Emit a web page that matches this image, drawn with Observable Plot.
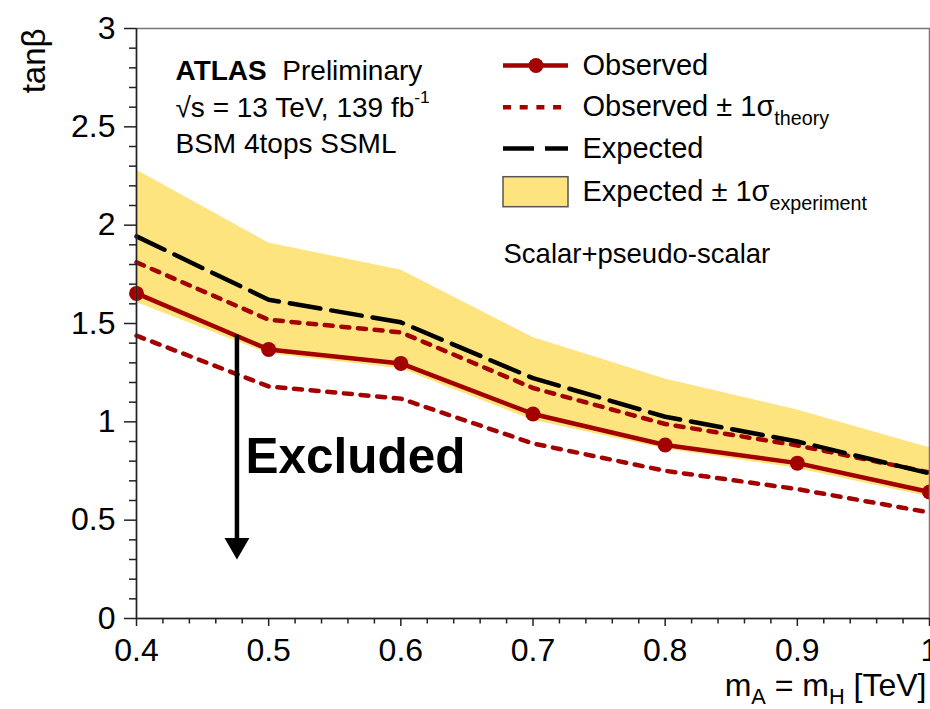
<!DOCTYPE html>
<html><head><meta charset="utf-8">
<script src="https://cdn.jsdelivr.net/npm/d3@7"></script>
<script src="https://cdn.jsdelivr.net/npm/@observablehq/plot@0.6"></script>
<style>
html,body{margin:0;padding:0;background:#fff;}
#chart{width:930px;height:709px;overflow:hidden;}
</style></head><body><div id="chart"></div>
<script>
// ---- data ----
const mass      = [0.4, 0.5, 0.6, 0.7, 0.8, 0.9, 1.0];
const observed  = [1.653, 1.368, 1.297, 1.040, 0.882, 0.790, 0.643];
const obsUp     = [1.811, 1.519, 1.455, 1.172, 0.989, 0.880, 0.743];
const obsDown   = [1.438, 1.180, 1.118, 0.890, 0.751, 0.658, 0.539];
const expected  = [1.943, 1.621, 1.506, 1.222, 1.026, 0.900, 0.738];
const expUp     = [2.281, 1.909, 1.772, 1.429, 1.218, 1.060, 0.868];
const expDown   = [1.607, 1.346, 1.270, 1.008, 0.862, 0.763, 0.618];

const xMajor = [0.4, 0.5, 0.6, 0.7, 0.8, 0.9, 1.0];
const xMajorLabels = ["0.4", "0.5", "0.6", "0.7", "0.8", "0.9", "1"];
const yMajor = [0, 0.5, 1, 1.5, 2, 2.5, 3];
const yMajorLabels = ["0", "0.5", "1", "1.5", "2", "2.5", "3"];
const xMinor = [0.42,0.44,0.46,0.48,0.52,0.54,0.56,0.58,0.62,0.64,0.66,0.68,0.72,0.74,0.76,0.78,0.82,0.84,0.86,0.88,0.92,0.94,0.96,0.98];
const yMinor = [0.1,0.2,0.3,0.4,0.6,0.7,0.8,0.9,1.1,1.2,1.3,1.4,1.6,1.7,1.8,1.9,2.1,2.2,2.3,2.4,2.6,2.7,2.8,2.9];

const legendLabels = ["Observed", "Observed ± 1σ_{theory}", "Expected", "Expected ± 1σ_{experiment}"];
const atlasLines   = ["*{ATLAS}\u00a0\u00a0Preliminary", "√s = 13 TeV, 139 fb^{-1}", "BSM 4tops SSML"];
const channelLabel = ["Scalar+pseudo-scalar"];
const excludedLabel = ["Excluded"];
const xTitle = ["m_{A} = m_{H} [TeV]"];
const yTitle = ["tanβ"];
const arrowX = 0.476, arrowTop = 1.44, arrowTip = 0.30;

// ---- layout ----
const W = 930, H = 709, mL = 136, mR = 1, mT = 28, mB = 91;
const px2x = px => 0.4 + (px - mL) * 0.6 / (W - mL - mR);
const px2y = py => (H - mB - py) * 3 / (H - mT - mB);
const dy2data = d => d * 3 / (H - mT - mB);

const RED = "#a30000", YEL = "#fee47f";
const FONT = "'Liberation Sans', Arial, Helvetica, sans-serif";
const dotted = {stroke: RED, strokeWidth: 4.5, strokeDasharray: "8,8.7"};
const dashed = {stroke: "#000", strokeWidth: 4.5, strokeDasharray: "31,11"};

const rows = mass.map((m, i) => ({m, obs: observed[i], up: obsUp[i], dn: obsDown[i],
  exp: expected[i], eu: expUp[i], ed: expDown[i]}));

// legend geometry
const sx1 = px2x(503), sx2 = px2x(568), sxm = px2x(535.5), tx = px2x(582);
const legY = [65, 106.7, 148, 191.7].map(px2y);

const headLen = dy2data(21.6);

const plot = Plot.plot({
  width: W, height: H,
  marginLeft: mL, marginRight: mR, marginTop: mT, marginBottom: mB,
  x: {domain: [0.4, 1.0]},
  y: {domain: [0, 3]},
  style: {fontFamily: FONT, fontSize: "32px", color: "#000", background: "#fff"},
  marks: [
    Plot.areaY(rows, {x: "m", y1: "ed", y2: "eu", fill: YEL}),
    Plot.line(rows, {x: "m", y: "dn", ...dotted}),
    Plot.line(rows, {x: "m", y: "up", ...dotted}),
    Plot.line(rows, {x: "m", y: "exp", ...dashed}),
    Plot.line(rows, {x: "m", y: "obs", stroke: RED, strokeWidth: 4.5}),
    Plot.dot(rows, {x: "m", y: "obs", r: 7.5, fill: RED, stroke: "none"}),
    // exclusion arrow
    Plot.ruleX([arrowX], {x: d => d, y1: arrowTop, y2: arrowTip + headLen * 0.9, stroke: "#000", strokeWidth: 4.5}),
    Plot.dot([arrowX], {x: d => d, y: arrowTip, dy: -14.4, symbol: "triangle", rotate: 180, r: 9.25, fill: "#000", stroke: "none"}),
    Plot.text(excludedLabel, {x: px2x(245), y: px2y(472), textAnchor: "start", lineAnchor: "bottom", fontSize: 49.5, fontWeight: "bold"}),
    // ATLAS label
    Plot.text(atlasLines, {x: px2x(175), y: (d, i) => px2y([79, 116.7, 152.7][i]), textAnchor: "start", lineAnchor: "bottom", fontSize: 28}),
    // legend
    Plot.ruleY([legY[0]], {y: d => d, x1: sx1, x2: sx2, stroke: RED, strokeWidth: 4.5}),
    Plot.dot([legY[0]], {y: d => d, x: sxm, r: 7.5, fill: RED, stroke: "none"}),
    Plot.ruleY([legY[1]], {y: d => d, x1: sx1, x2: sx2, ...dotted}),
    Plot.ruleY([legY[2]], {y: d => d, x1: sx1, x2: sx2, ...dashed}),
    Plot.rect([legY[3]], {x1: sx1, x2: sx2, y1: d => d - dy2data(15), y2: d => d + dy2data(15), fill: YEL, stroke: "#555", strokeWidth: 1.5}),
    Plot.text(legendLabels, {x: tx, y: (d, i) => legY[i], textAnchor: "start", lineAnchor: "middle", fontSize: 29}),
    Plot.text(channelLabel, {x: px2x(503), y: px2y(254), textAnchor: "start", lineAnchor: "middle", fontSize: 27.5}),
    // frame & axes
    Plot.frame({stroke: "#777", strokeWidth: 1.5}),
    Plot.ruleY([0], {stroke: "#222", strokeWidth: 1.5}),
    Plot.ruleX([0.4], {stroke: "#222", strokeWidth: 1.5}),
    Plot.axisX(xMajor, {tickSize: 8, tickPadding: 12, fontSize: 32, stroke: "#222", strokeWidth: 1.5, label: null,
      tickFormat: d => xMajorLabels[xMajor.indexOf(d)]}),
    Plot.axisX(xMinor, {tickSize: 5.5, tickFormat: () => "", stroke: "#222", strokeWidth: 1.5, label: null}),
    Plot.axisY(yMajor, {tickSize: 12, tickPadding: 9, fontSize: 32, stroke: "#222", strokeWidth: 1.5, label: null,
      tickFormat: d => yMajorLabels[yMajor.indexOf(d)]}),
    Plot.axisY(yMinor, {tickSize: 7, tickFormat: () => "", stroke: "#222", strokeWidth: 1.5, label: null}),
    // axis titles
    Plot.text(yTitle, {frameAnchor: "top-left", rotate: -90, textAnchor: "end", lineAnchor: "bottom", dx: -92, dy: 0, fontSize: 33}),
    Plot.text(xTitle, {frameAnchor: "bottom-right", textAnchor: "end", lineAnchor: "bottom", dx: -3, dy: 77, fontSize: 32})
  ]
});
document.getElementById("chart").appendChild(plot);

// rich text: _{sub}, ^{sup}, *{bold}
function richify(svg) {
  const NS = "http://www.w3.org/2000/svg";
  svg.querySelectorAll("text").forEach(el => {
    const s = el.textContent;
    if (!/[_^*]\{/.test(s)) return;
    const fs = parseFloat(getComputedStyle(el).fontSize) || 28;
    el.textContent = "";
    let cur = 0;
    for (const part of s.split(/([_^*]\{[^}]*\})/)) {
      if (!part) continue;
      const m = part.match(/^([_^*])\{([^}]*)\}$/);
      const t = document.createElementNS(NS, "tspan");
      let target = 0;
      if (m && m[1] === "_") { target = 0.28 * fs; t.setAttribute("font-size", 0.68 * fs); }
      else if (m && m[1] === "^") { target = -0.5 * fs; t.setAttribute("font-size", 0.62 * fs); }
      else if (m && m[1] === "*") { t.setAttribute("font-weight", "bold"); }
      if (target !== cur) { t.setAttribute("dy", target - cur); cur = target; }
      t.textContent = m ? m[2] : part;
      el.appendChild(t);
    }
  });
}
richify(plot);
</script></body></html>
